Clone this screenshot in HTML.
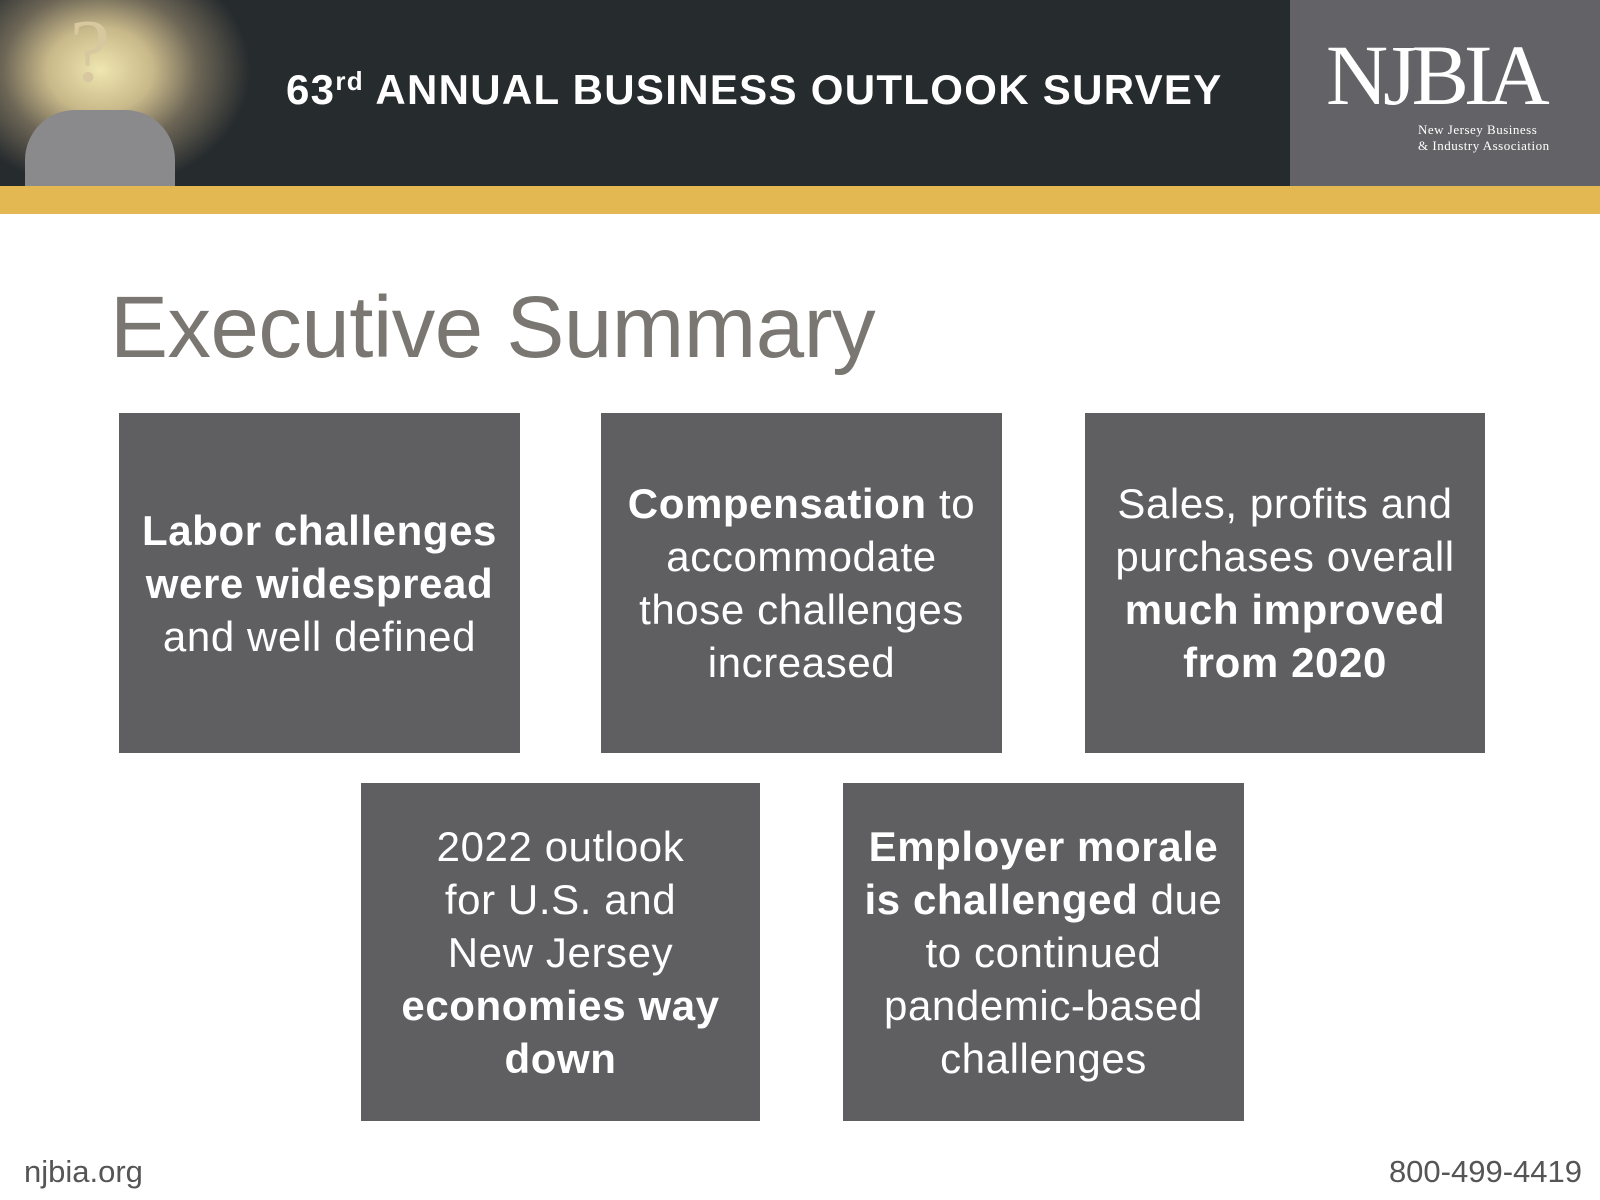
<!DOCTYPE html>
<html><head><meta charset="utf-8"><style>
*{margin:0;padding:0;box-sizing:border-box}
body{width:1600px;height:1200px;background:#fff;position:relative;overflow:hidden;font-family:"Liberation Sans",sans-serif}
.hdr{position:absolute;left:0;top:0;width:1290px;height:186px;background:#262b2e}
.photo{position:absolute;left:0;top:0;width:330px;height:186px;background:radial-gradient(ellipse 150px 120px at 100px 70px,#efe6b0 0%,#c9b98a 35%,#6d6656 65%,#262b2e 100%)}
.person{position:absolute;left:25px;top:110px;width:150px;height:76px;background:#8a8a8c;border-radius:50px 50px 0 0}
.logo{position:absolute;left:1290px;top:0;width:310px;height:186px;background:#636266;color:#fff;font-family:"Liberation Serif",serif}
.gold{position:absolute;left:0;top:186px;width:1600px;height:28px;background:#e3b752}
.htitle{position:absolute;left:286px;top:66px;color:#fff;font-weight:bold;font-size:42px;letter-spacing:1.3px;white-space:nowrap}
.htitle sup{font-size:26px;vertical-align:14px}
.title{position:absolute;left:110px;top:278px;font-size:87px;color:#7a7772;letter-spacing:-0.5px}
.box{position:absolute;background:#5f5f61;color:#fff;font-size:42px;letter-spacing:0.6px;line-height:53px;text-align:center;display:flex;align-items:center;justify-content:center}
.foot{position:absolute;top:1154px;font-size:31px;color:#555}
</style></head><body>
<div class="hdr"></div>
<div class="photo"><div class="person"></div><div style="position:absolute;left:70px;top:0;font-size:90px;color:#d8c8a0;font-family:'Liberation Serif',serif">?</div></div>
<div class="htitle">63<sup>rd</sup> ANNUAL BUSINESS OUTLOOK SURVEY</div>
<div class="logo">
<div style="position:absolute;left:36px;top:32px;font-size:86px;letter-spacing:-5px;line-height:86px">NJBIA</div>
<div style="position:absolute;left:128px;top:122px;font-size:13px;line-height:16px;letter-spacing:0.5px">New Jersey Business<br>&amp; Industry Association</div>
</div>
<div class="gold"></div>
<div class="title">Executive Summary</div>
<div class="box" style="left:119px;top:413px;width:401px;height:340px"><div><b>Labor challenges<br>were widespread</b><br>and well defined</div></div>
<div class="box" style="left:601px;top:413px;width:401px;height:340px"><div><b>Compensation</b> to<br>accommodate<br>those challenges<br>increased</div></div>
<div class="box" style="left:1085px;top:413px;width:400px;height:340px"><div>Sales, profits and<br>purchases overall<br><b>much improved<br>from 2020</b></div></div>
<div class="box" style="left:361px;top:783px;width:399px;height:338px"><div>2022 outlook<br>for U.S. and<br>New Jersey<br><b>economies way<br>down</b></div></div>
<div class="box" style="left:843px;top:783px;width:401px;height:338px"><div><b>Employer morale<br>is challenged</b> due<br>to continued<br>pandemic-based<br>challenges</div></div>
<div class="foot" style="left:24px">njbia.org</div>
<div class="foot" style="right:18px">800-499-4419</div>
</body></html>
